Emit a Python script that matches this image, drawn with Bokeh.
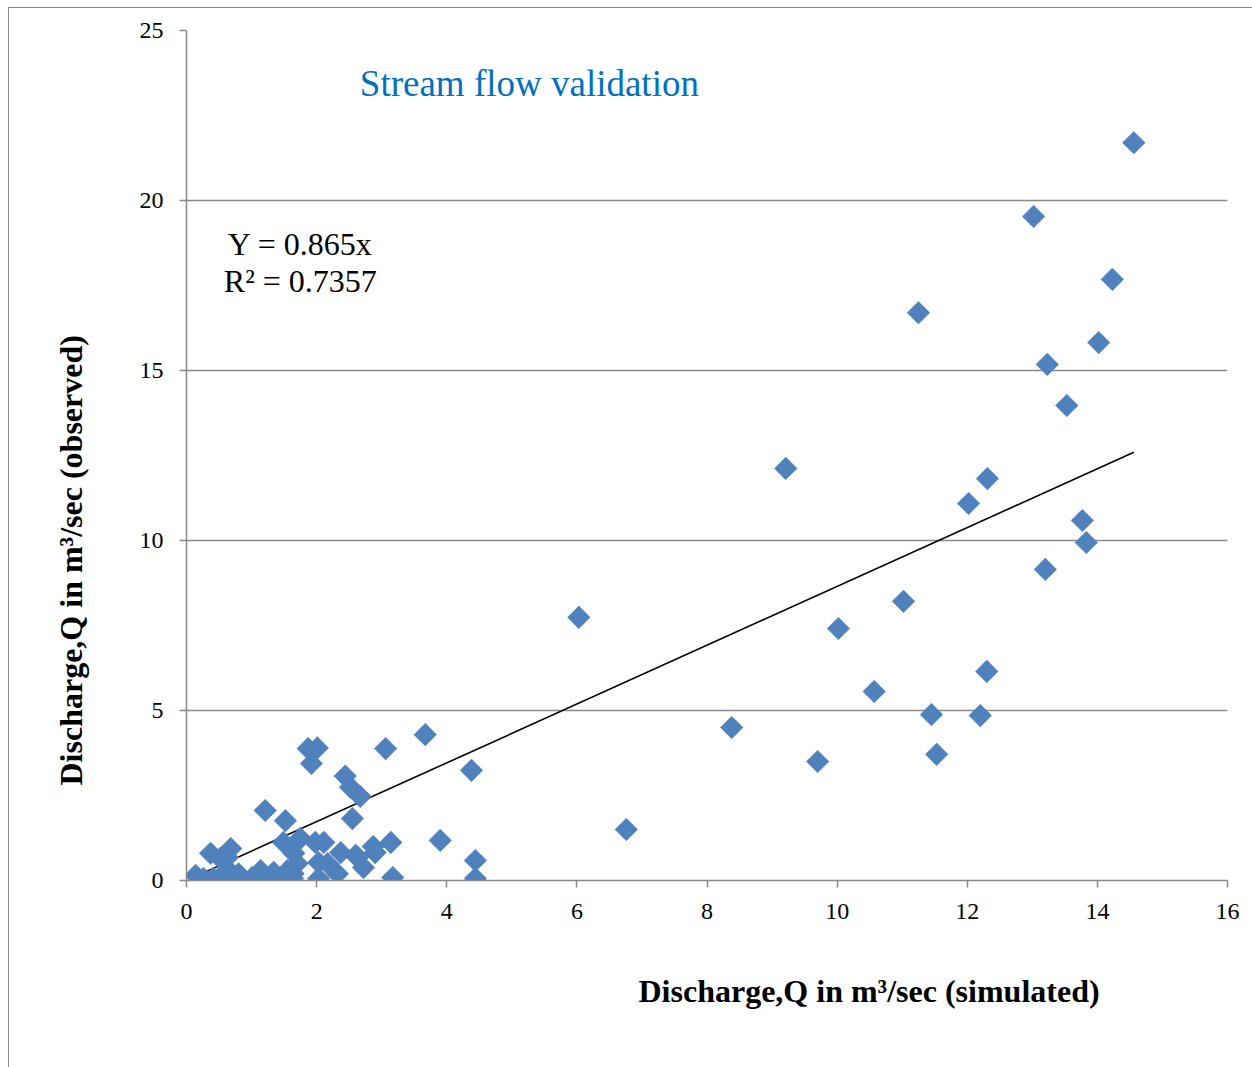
import math
from bokeh.plotting import figure
from bokeh.models import Range1d, Label, FixedTicker, ColumnDataSource, Title
from bokeh.embed import file_html
from bokeh.resources import INLINE

# ---- data ----
sim_x = [14.56, 13.02, 14.23, 11.25, 14.02, 13.23, 13.53, 9.21, 12.31, 12.02,
         13.77, 13.83, 13.20, 11.02, 10.02, 6.03, 10.57, 12.30, 11.45, 12.20,
         11.53, 8.38, 9.70, 6.76,
         3.67, 3.06, 4.38, 3.90, 4.44, 4.44, 3.17, 3.14,
         1.87, 2.01, 1.92, 2.44, 2.52, 2.67, 2.55, 1.52, 1.21,
         1.75, 1.98, 2.11, 1.49, 2.37, 2.60, 2.87, 2.90, 2.72,
         2.03, 2.17, 2.32, 2.03, 1.64, 1.65, 1.70, 1.63, 1.55, 1.44,
         1.34, 1.21, 1.14, 1.01, 0.80, 0.72, 0.57, 0.41, 0.26, 0.14,
         0.37, 0.52, 0.68, 0.63, 0.65, 2.63]
obs_y = [21.70, 19.53, 17.68, 16.70, 15.82, 15.18, 13.97, 12.12, 11.82, 11.09,
         10.59, 9.94, 9.15, 8.21, 7.41, 7.74, 5.56, 6.15, 4.88, 4.85,
         3.71, 4.50, 3.50, 1.50,
         4.29, 3.88, 3.24, 1.18, 0.59, 0.06, 0.09, 1.12,
         3.88, 3.90, 3.44, 3.07, 2.74, 2.47, 1.82, 1.76, 2.06,
         1.24, 1.12, 1.12, 1.12, 0.82, 0.74, 1.00, 0.82, 0.38,
         0.53, 0.50, 0.20, 0.06, 0.20, 0.80, 0.50, 0.06, 0.29, 0.06,
         0.24, 0.06, 0.29, 0.09, 0.20, 0.06, 0.20, 0.06, 0.06, 0.15,
         0.80, 0.65, 0.94, 0.68, 0.29, 0.68]
slope = 0.865
r2 = 0.7357
x_ticks = [0, 2, 4, 6, 8, 10, 12, 14, 16]
y_ticks = [0, 5, 10, 15, 20, 25]

title_text = "Stream flow validation"
eq_text = "Y = 0.865x"
r2_text = "R² = 0.7357"
x_title = "Discharge,Q in m³/sec (simulated)"
y_title = "Discharge,Q in m³/sec (observed)"

SERIF = "Liberation Serif"
GRAY = "#898989"
BLUE = "#4F81BD"

# figure spans the whole window; the outer chart border (left + top) is drawn
# as a CSS background behind a transparent border area
p = figure(width=1252, height=1067, output_backend="svg", toolbar_location=None,
           x_range=Range1d(0, 16), y_range=Range1d(0, 25),
           min_border_left=186, min_border_right=25, min_border_top=30, min_border_bottom=187)
p.styles = {
    "background": ("linear-gradient(%s,%s) 8px 7px / 1px 100%% no-repeat, "
                   "linear-gradient(%s,%s) 8px 7px / 100%% 1px no-repeat, white")
                  % (GRAY, GRAY, GRAY, GRAY)
}
p.outline_line_color = None
p.background_fill_color = "white"
p.border_fill_color = None

# axis titles as side titles
p.add_layout(Title(text=x_title, align="left", offset=452, standoff=98,
                   text_font=SERIF, text_font_style="bold", text_font_size="32px",
                   text_color="black"), "below")
p.add_layout(Title(text=y_title, align="left", offset=95, standoff=96,
                   text_font=SERIF, text_font_style="bold", text_font_size="32px",
                   text_color="black"), "left")

# axes
for ax in (p.xaxis[0], p.yaxis[0]):
    ax.axis_line_color = GRAY
    ax.axis_line_width = 1.5
    ax.major_tick_line_color = GRAY
    ax.major_tick_line_width = 1.5
    ax.major_tick_in = 0
    ax.major_tick_out = 7
    ax.minor_tick_line_color = None
    ax.major_label_text_font = SERIF
    ax.major_label_text_font_size = "24px"
    ax.major_label_text_color = "black"
p.xaxis[0].ticker = FixedTicker(ticks=x_ticks)
p.yaxis[0].ticker = FixedTicker(ticks=y_ticks)
p.xaxis[0].major_label_standoff = 16
p.yaxis[0].major_label_standoff = 16

p.xgrid.grid_line_color = None
p.ygrid.ticker = FixedTicker(ticks=y_ticks)
p.ygrid.grid_line_color = GRAY
p.ygrid.grid_line_width = 1.5

# trend line
tx = [min(sim_x), max(sim_x)]
ty = [slope * v for v in tx]
p.line(tx, ty, line_color="black", line_width=1.6)

# points
src = ColumnDataSource(dict(x=sim_x, y=obs_y))
p.scatter("x", "y", source=src, marker="square", size=16, angle=math.pi / 4,
          fill_color=BLUE, line_color=BLUE, line_width=0.5)

# texts
p.add_layout(Label(x=5.27, y=23.44, text=title_text, text_font=SERIF,
                   text_font_size="37px", text_color="#0070C0",
                   text_align="center", text_baseline="middle"))
p.add_layout(Label(x=1.75, y=18.73, text=eq_text, text_font=SERIF,
                   text_font_size="32px", text_color="black",
                   text_align="center", text_baseline="middle"))
p.add_layout(Label(x=1.75, y=17.64, text=r2_text, text_font=SERIF,
                   text_font_size="32px", text_color="black",
                   text_align="center", text_baseline="middle"))

open("out.html", "w").write(file_html(p, INLINE))
